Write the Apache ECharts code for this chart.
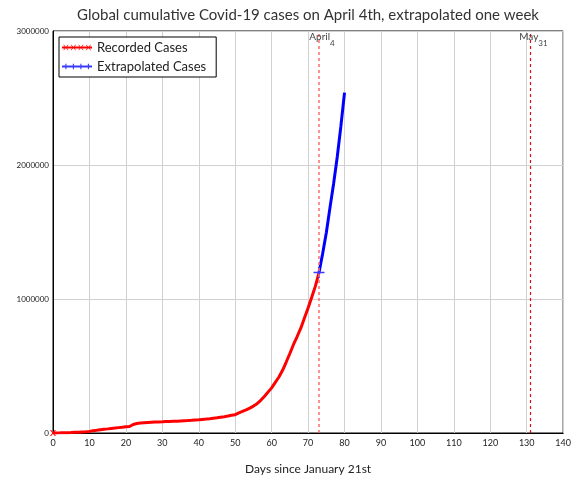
<!DOCTYPE html>
<html>
<head>
<meta charset="utf-8">
<script src="https://cdn.jsdelivr.net/npm/echarts@6/dist/echarts.min.js"></script>
<style>html,body{margin:0;padding:0;background:#fff;}#c{width:574px;height:480px;}</style>
</head>
<body>
<div id="c"></div>
<script>
// ---- data ----
const titleText = 'Global cumulative Covid-19 cases on April 4th, extrapolated one week';
const xAxisName = 'Days since January 21st';
const recordedStartDay = 0;
const recordedCases = [
  555, 650, 940, 1430, 2120, 2930, 5580, 6170, 8240, 9930,
  12040, 16790, 19880, 23900, 27640, 30820, 34400, 37130, 40160, 42770,
  46000, 48000, 64000, 71000, 74000, 76500, 78500, 80500, 81500, 82500,
  83500, 85000, 86000, 87000, 88000, 89500, 91000, 92500, 94500, 97000,
  99000, 101500, 104000, 107000, 110500, 114000, 118000, 122000, 127000, 133000,
  137000, 150000, 161000, 172000, 186000, 201000, 219000, 244000, 272200, 305000,
  336900, 378300, 418000, 467700, 529600, 593300, 660700, 720100, 782400, 857500,
  932600, 1013200, 1095900, 1197400
];
const extrapolatedStartDay = 73;
const extrapolatedCases = [1197400, 1340000, 1495000, 1680000, 1860000, 2060000, 2290000, 2540000];
const eventDays = [73, 131];
const eventMain = ['April', 'May'];
const eventSub = ['4', '31'];
const xMin = 0, xMax = 140, xStep = 10;
const yMin = 0, yMax = 3000000, yStep = 1000000;

// ---- build ----
const recData = recordedCases.map((v, i) => [recordedStartDay + i, v]);
const extData = extrapolatedCases.map((v, i) => [extrapolatedStartDay + i, v]);

function crossIcon() {
  let p = 'path://M0 7L100 7L100 13L0 13Z';
  [13, 38, 63, 88].forEach(c => {
    p += 'M' + (c - 9) + ' 1L' + (c - 6.5) + ' 1L' + (c + 9) + ' 19L' + (c + 6.5) + ' 19Z';
    p += 'M' + (c + 6.5) + ' 1L' + (c + 9) + ' 1L' + (c - 6.5) + ' 19L' + (c - 9) + ' 19Z';
  });
  return p;
}
function plusIcon() {
  let p = 'path://M0 7L100 7L100 13L0 13Z';
  [13, 38, 63, 88].forEach(c => {
    p += 'M' + (c - 1.8) + ' 1L' + (c + 1.8) + ' 1L' + (c + 1.8) + ' 19L' + (c - 1.8) + ' 19Z';
  });
  return p;
}

const FONT = 'Lato';
const chart = echarts.init(document.getElementById('c'), null, {renderer: 'canvas'});
chart.setOption({
  animation: false,
  backgroundColor: '#fff',
  textStyle: {fontFamily: FONT},
  title: {
    text: titleText, left: 303, top: 3, textAlign: 'center',
    textStyle: {fontFamily: FONT, fontSize: 15, fontWeight: 'normal', color: '#333'}
  },
  grid: {left: 53, right: 9, top: 31, bottom: 46, show: true, borderColor: '#000', borderWidth: 1, backgroundColor: 'transparent'},
  legend: {
    orient: 'vertical', left: 59, top: 37, itemGap: 6, itemWidth: 30, itemHeight: 12,
    padding: [4, 10, 4, 3], borderColor: '#000', borderWidth: 1, backgroundColor: '#fff', borderRadius: 0,
    textStyle: {fontFamily: FONT, fontSize: 13, color: '#222'},
    data: [
      {name: 'Recorded Cases', icon: crossIcon()},
      {name: 'Extrapolated Cases', icon: plusIcon()}
    ]
  },
  xAxis: {
    type: 'value', min: xMin, max: xMax, interval: xStep,
    name: xAxisName, nameLocation: 'middle', nameGap: 30,
    nameTextStyle: {fontFamily: FONT, fontSize: 12, color: '#222'},
    axisLine: {show: true, lineStyle: {color: '#000', width: 1}},
    axisTick: {show: false},
    axisLabel: {fontFamily: FONT, fontSize: 9, color: '#222', margin: 6},
    splitLine: {show: true, lineStyle: {color: '#d0d0d0', width: 1}}
  },
  yAxis: {
    type: 'value', min: yMin, max: yMax, interval: yStep,
    axisLine: {show: true, lineStyle: {color: '#000', width: 1}},
    axisTick: {show: false},
    axisLabel: {fontFamily: FONT, fontSize: 8, color: '#222', margin: 4, formatter: v => String(v)},
    splitLine: {show: true, lineStyle: {color: '#d0d0d0', width: 1}}
  },
  series: [
    {
      name: 'Recorded Cases', type: 'line', data: recData,
      color: '#ff0000', lineStyle: {width: 3, color: '#ff0000'},
      symbol: (val, p) => p.dataIndex === 0 ? 'path://M0 0L2 0L10 10L8 10ZM8 0L10 0L2 10L0 10Z' : 'none',
      symbolSize: 6, showAllSymbol: true,
      itemStyle: {color: '#ff0000'},
      z: 3,
      markLine: {
        silent: true, symbol: ['none', 'none'],
        label: {show: false},
        data: [
          {xAxis: eventDays[0], lineStyle: {color: '#ff6a6a', type: [3, 3], width: 1.5}},
          {xAxis: eventDays[1], lineStyle: {color: '#dd1111', type: [3, 3], width: 1.2}}
        ]
      },
      markPoint: {
        silent: true, symbol: 'circle', symbolSize: 0,
        label: {
          show: true, position: 'bottom', distance: 1, offset: [3, 0],
          formatter: p => '{a|' + eventMain[p.dataIndex] + '}{b|' + eventSub[p.dataIndex] + '}',
          rich: {
            a: {fontFamily: FONT, fontSize: 10, color: '#444', lineHeight: 11, verticalAlign: 'top'},
            b: {fontFamily: FONT, fontSize: 8, color: '#444', lineHeight: 15, verticalAlign: 'bottom'}
          }
        },
        data: eventDays.map((d, i) => ({coord: [d, yMax]}))
      }
    },
    {
      name: 'Extrapolated Cases', type: 'line', data: extData,
      color: '#0000ff', lineStyle: {width: 3, color: '#0000ff'},
      symbol: (val, p) => p.dataIndex === 0 ? 'path://M0 4.3L10 4.3L10 5.7L0 5.7ZM4.3 0L5.7 0L5.7 10L4.3 10Z' : 'none',
      symbolSize: 11, showAllSymbol: true,
      itemStyle: {color: '#3a3aff'},
      z: 4
    }
  ]
});
</script>
</body>
</html>
